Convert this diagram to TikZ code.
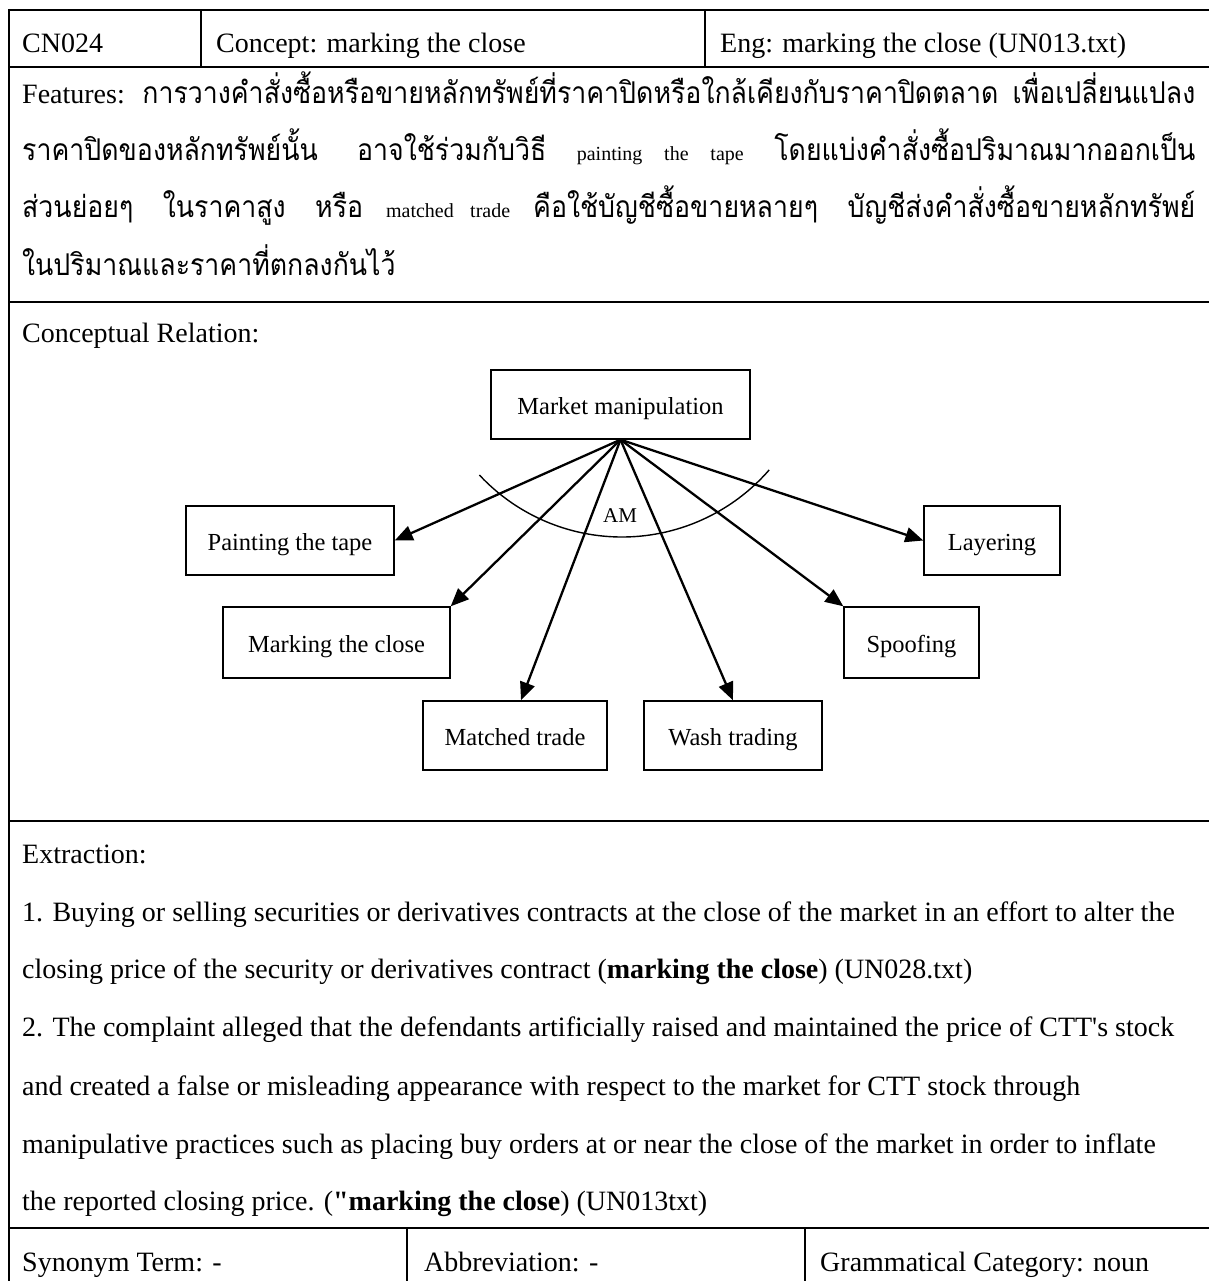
\documentclass[tikz,border=0pt]{standalone}
\usepackage{fontspec}
\setmainfont{Liberation Serif}[Ligatures=TeXOff]
\newfontfamily\thaifont[Script=Thai,FakeStretch=0.89]{Loma}
\newcommand\thaitext{\thaifont\fontsize{30}{34}\selectfont}
\usetikzlibrary{arrows.meta}

\begin{document}
\begin{tikzpicture}[x=1pt,y=-1pt,
  rule/.style={line width=2.4pt},
  sep/.style={line width=1.9pt},
  cell/.style={anchor=base west, inner sep=0pt, font=\fontsize{28}{34}\selectfont},
  concept/.style={draw, line width=1.4pt, inner sep=0pt, align=center,
    text height=19pt, text depth=0pt, font=\fontsize{24.5}{29}\selectfont},
  link/.style={line width=2.3pt, -{Triangle[length=18pt,width=15pt]}},
  tag/.style={inner sep=0pt, font=\fontsize{21}{25}\selectfont}
]
\useasboundingbox (0,0) rectangle (1208,1281);
\fill[white] (0,0) rectangle (1208,1281);

% table frame and row rules
\draw[rule] (9,10) -- (1212,10);
\draw[rule] (9,67) -- (1212,67);
\draw[rule] (9,302) -- (1212,302);
\draw[rule] (9,821) -- (1212,821);
\draw[rule] (9,1228) -- (1212,1228);
\draw[rule] (9,8.8) -- (9,1285);
% column separators
\draw[sep] (201,10) -- (201,67);
\draw[sep] (705,10) -- (705,67);
\draw[sep] (407,1228) -- (407,1285);
\draw[sep] (805,1228) -- (805,1285);

% header row
\node[cell] (id) at (22,53) {CN024};
\node[cell] (con) at (216,53) {Concept: marking the close};
\node[cell] (eng) at (720,53) {Eng: marking the close (UN013.txt)};

% features
\node[cell] (f1) at (22,104) {\makebox[1173pt][s]{Features: {\thaitext การวางคำสั่งซื้อหรือขายหลักทรัพย์ที่ราคาปิดหรือใกล้เคียงกับราคาปิดตลาด เพื่อเปลี่ยนแปลง}}};
\node[cell] (f2) at (22,161) {\makebox[1173pt][s]{{\thaitext ราคาปิดของหลักทรัพย์นั้น อาจใช้ร่วมกับวิธี} {\fontsize{20}{24}\selectfont painting the tape} {\thaitext โดยแบ่งคำสั่งซื้อปริมาณมากออกเป็น}}};
\node[cell] (f3) at (22,218) {\makebox[1173pt][s]{{\thaitext ส่วนย่อยๆ ในราคาสูง หรือ} {\fontsize{20}{24}\selectfont matched trade} {\thaitext คือใช้บัญชีซื้อขายหลายๆ บัญชีส่งคำสั่งซื้อขายหลักทรัพย์}}};
\node[cell] (f4) at (22,275) {\thaitext ในปริมาณและราคาที่ตกลงกันไว้};

% conceptual relation
\node[cell] (cr) at (22,342) {Conceptual Relation:};

\node[concept, minimum width=259pt, minimum height=69pt] (mm) at (620.5,404.5) {Market manipulation};
\node[concept, minimum width=208pt, minimum height=69pt] (ptt) at (290,540.5) {Painting the tape};
\node[concept, minimum width=227pt, minimum height=71pt] (mtc) at (336.5,642.5) {Marking the close};
\node[concept, minimum width=184pt, minimum height=69pt] (mt) at (515,735.5) {Matched trade};
\node[concept, minimum width=178pt, minimum height=69pt] (wt) at (733,735.5) {Wash trading};
\node[concept, minimum width=135pt, minimum height=71pt] (sp) at (911.5,642.5) {Spoofing};
\node[concept, minimum width=136pt, minimum height=69pt] (ly) at (992,540.5) {Layering};

\draw[link] (mm.south) -- (ptt.east);
\draw[link] (mm.south) -- (mtc.north east);
\draw[link] (mm.south) -- ([xshift=6pt]mt.north);
\draw[link] (mm.south) -- (wt.north);
\draw[link] (mm.south) -- (sp.north west);
\draw[link] (mm.south) -- (ly.west);

% arc marking the AM group
\draw[line width=1.4pt] (622,342) ++(137:195) arc[start angle=137, end angle=41, radius=195];
\node[tag] (am) at (620,516) {AM};

% extraction
\node[cell] (ex) at (22,863) {Extraction:};
\node[cell] (e1) at (22,921) {1. Buying or selling securities or derivatives contracts at the close of the market in an effort to alter the};
\node[cell] (e2) at (22,978) {closing price of the security or derivatives contract (\textbf{marking the close}) (UN028.txt)};
\node[cell] (e3) at (22,1036) {2. The complaint alleged that the defendants artificially raised and maintained the price of CTT's stock};
\node[cell] (e4) at (22,1095) {and created a false or misleading appearance with respect to the market for CTT stock through};
\node[cell] (e5) at (22,1153) {manipulative practices such as placing buy orders at or near the close of the market in order to inflate};
\node[cell] (e6) at (22,1210) {the reported closing price. (\textbf{"marking the close}) (UN013txt)};

% bottom row
\node[cell] (syn) at (22,1271) {Synonym Term: -};
\node[cell] (abb) at (424,1271) {Abbreviation: -};
\node[cell] (gc) at (820,1271) {Grammatical Category: noun};
\end{tikzpicture}
\end{document}
